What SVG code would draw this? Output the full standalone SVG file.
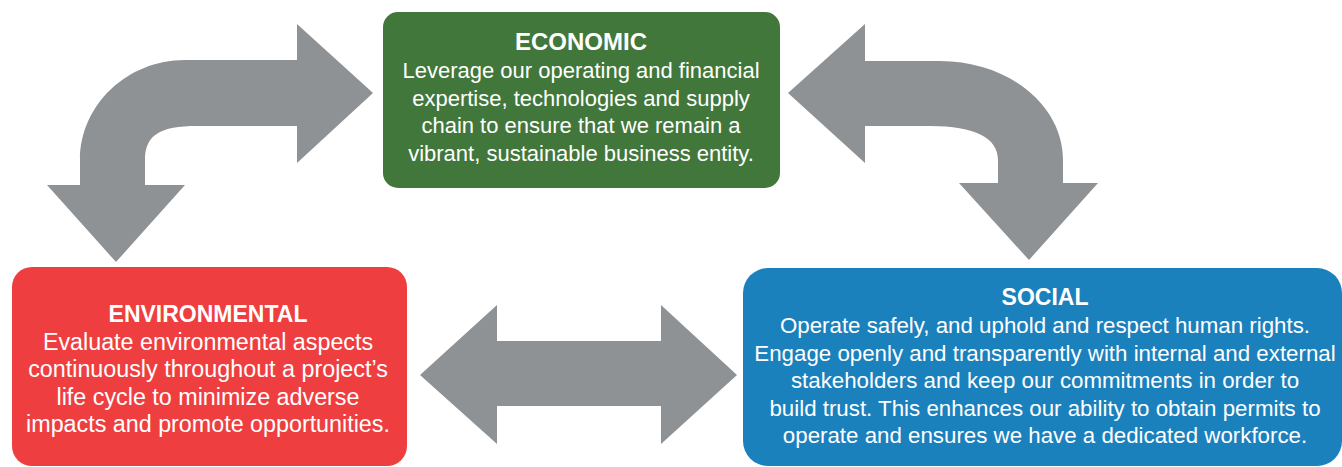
<svg xmlns="http://www.w3.org/2000/svg" width="1342" height="467" viewBox="0 0 1342 467">
<style>
.arrow{fill:#8E9294;}
.t{font-family:"Liberation Sans",Arial,sans-serif;font-weight:bold;font-size:23px;fill:#fff;text-anchor:middle;}
.b{font-family:"Liberation Sans",Arial,sans-serif;font-size:22px;fill:#fff;text-anchor:middle;}
.br{font-size:23.3px;}
.bs{font-size:22.3px;}
</style>
<rect width="1342" height="467" fill="#fff"/>
<g id="connectors">
<path class="arrow" d="M373,93 L297,163 L297,126 L197,126 C160,126 145,135 145,160 L145,185 L185,185 L116,262 L47,185 L80,185 L80,160 C80,105 127,60 185,60 L297,60 L297,24 Z"/>
<path class="arrow" d="M788,93 L865,24 L865,61 L940,61 C1008,61 1063,105 1063,160 L1063,183 L1098,183 L1029,260 L959,183 L998,183 L998,160 C998,138 975,126 930,126 L865,126 L865,163 Z"/>
<path class="arrow" d="M420,375 L497,305 L497,341 L661,341 L661,305 L737,375 L661,444 L661,406 L497,406 L497,444 Z"/>
</g>
<g id="economic">
<rect x="383" y="12" width="397" height="176" rx="15" fill="#42773C"/>
<text class="t" x="581" y="50" style="font-size:24px">ECONOMIC</text>
<text class="b" x="581" y="78">Leverage our operating and financial</text>
<text class="b" x="581" y="105.5">expertise, technologies and supply</text>
<text class="b" x="581" y="133">chain to ensure that we remain a</text>
<text class="b" x="581" y="160.5">vibrant, sustainable business entity.</text>
</g>
<g id="environmental">
<rect x="12" y="267" width="395" height="199" rx="20" fill="#EE3E3F"/>
<text class="t" x="208" y="322">ENVIRONMENTAL</text>
<text class="b br" x="208" y="349.5">Evaluate environmental aspects</text>
<text class="b br" x="208" y="377">continuously throughout a project’s</text>
<text class="b br" x="208" y="404.5">life cycle to minimize adverse</text>
<text class="b br" x="208" y="432">impacts and promote opportunities.</text>
</g>
<g id="social">
<rect x="743" y="268" width="599" height="198" rx="25" fill="#1B81BD"/>
<text class="t" x="1045" y="305">SOCIAL</text>
<text class="b bs" x="1045" y="333">Operate safely, and uphold and respect human rights.</text>
<text class="b bs" x="1045" y="360.5">Engage openly and transparently with internal and external</text>
<text class="b bs" x="1045" y="388">stakeholders and keep our commitments in order to</text>
<text class="b bs" x="1045" y="415.5">build trust. This enhances our ability to obtain permits to</text>
<text class="b bs" x="1045" y="443">operate and ensures we have a dedicated workforce.</text>
</g>
</svg>
